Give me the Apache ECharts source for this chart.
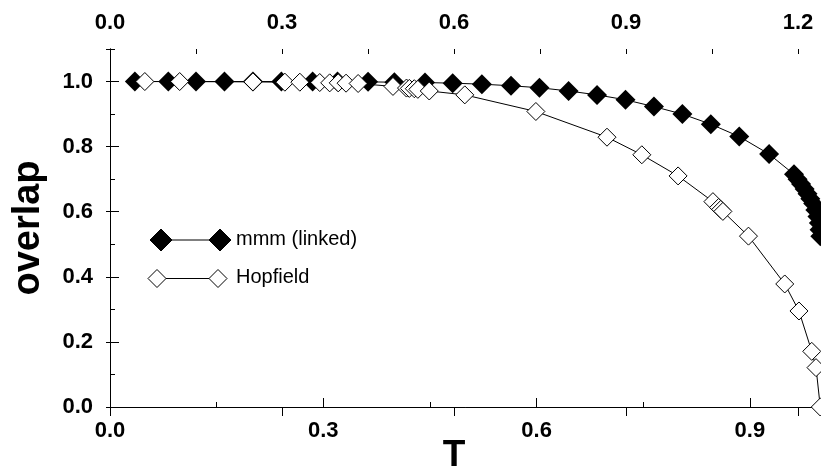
<!DOCTYPE html>
<html><head><meta charset="utf-8">
<script src="https://cdn.jsdelivr.net/npm/echarts@6/dist/echarts.min.js"></script>
<style>html,body{margin:0;padding:0;background:#fff}#c{width:821px;height:472px}</style>
</head><body><div id="c"></div>
<script>
// ---- data ----
const mmmT  = [0.035,0.082,0.121,0.161,0.201,0.241,0.285,0.320,0.363,0.400,0.443,0.482,0.523,0.564,0.604,0.645,0.685,0.725,0.765,0.805,0.845,0.885,0.927,0.962,0.967,0.972,0.977,0.981,0.985,0.989,0.992,0.995,0.997,0.998,0.999];
const mmmOv = [1.000,1.000,1.000,1.000,1.000,1.000,1.000,1.000,0.999,0.998,0.997,0.995,0.992,0.987,0.981,0.971,0.959,0.944,0.923,0.900,0.869,0.831,0.777,0.715,0.700,0.685,0.670,0.655,0.640,0.625,0.605,0.585,0.565,0.545,0.525];
const hopT  = [0.049,0.098,0.201,0.246,0.267,0.295,0.309,0.321,0.332,0.349,0.398,0.417,0.421,0.428,0.433,0.449,0.499,0.599,0.699,0.748,0.799,0.848,0.856,0.859,0.862,0.898,0.949,0.969,0.987,0.993,0.999];
const hopOv = [1.000,1.000,0.999,0.998,0.998,0.997,0.996,0.996,0.995,0.994,0.985,0.980,0.979,0.978,0.976,0.971,0.959,0.908,0.829,0.775,0.710,0.631,0.613,0.607,0.601,0.525,0.378,0.295,0.171,0.121,0.000];
const seriesNames = ['mmm (linked)','Hopfield'];
const bottomTicks = {min:0, max:1.0, major:0.3, minor:0.15};
const topTicks    = {min:0, max:1.24, major:0.3, minor:0.15};
const yTicks      = {min:0, max:1.1, major:0.2, minor:0.1};

// ---- chart ----
const chart = echarts.init(document.getElementById('c'), null, {renderer:'canvas'});
const gridRect = {left:110, right:-1, top:49, bottom:65};
const tickFont = {fontFamily:'Liberation Sans', fontWeight:'bold', fontSize:22, color:'#000'};
const blackLine = {show:true, lineStyle:{color:'#000', width:1}};
const fmt = v => v.toFixed(1);

function xAx(gridIndex, pos, t, isMajor, margin){
  return {type:'value', gridIndex, position:pos, min:t.min, max:t.max,
    interval: isMajor ? t.major : t.minor,
    axisLine: isMajor ? blackLine : {show:false},
    axisTick:{show:true, inside:true, length: isMajor?9:5, lineStyle:{color:'#000', width:1}},
    axisLabel: isMajor ? Object.assign({show:true, margin, formatter:fmt, showMaxLabel:false, showMinLabel:true}, tickFont) : {show:false},
    splitLine:{show:false}};
}
function yAx(gridIndex, pos, isMajor, len, labels){
  return {type:'value', gridIndex, position:pos, min:yTicks.min, max:yTicks.max,
    interval: isMajor ? yTicks.major : yTicks.minor,
    axisLine: isMajor ? blackLine : {show:false},
    axisTick:{show:true, inside:true, length:len, lineStyle:{color:'#000', width:1}},
    axisLabel: labels ? Object.assign({show:true, margin:17, formatter:fmt, showMaxLabel:false}, tickFont) : {show:false},
    splitLine:{show:false}};
}

const yLeft = yAx(0,'left',true,9,true);
yLeft.name = 'overlap';
yLeft.nameLocation = 'middle';
yLeft.nameGap = 62;
yLeft.nameTextStyle = {fontFamily:'Liberation Sans', fontWeight:'bold', fontSize:38, color:'#000'};

function diamond(cx, cy, s){
  const h = s/2;
  return [[cx,cy-h],[cx+h,cy],[cx,cy+h],[cx-h,cy]];
}
const legendRows = [
  {y:240, x1:161, x2:220, size:22, fill:'#000', label:seriesNames[0]},
  {y:278.5, x1:157, x2:218, size:18, fill:'#fff', label:seriesNames[1]}
];
const graphics = [];
legendRows.forEach(r => {
  graphics.push({type:'line', shape:{x1:r.x1, y1:r.y, x2:r.x2, y2:r.y}, style:{stroke:'#000', lineWidth:1}, z:100});
  [r.x1, r.x2].forEach(cx => graphics.push({type:'polygon', shape:{points:diamond(cx, r.y, r.size)}, style:{fill:r.fill, stroke:'#000', lineWidth:1}, z:101}));
  graphics.push({type:'text', left:236, top:r.y-11, style:{text:r.label, fontFamily:'Liberation Sans', fontSize:20, fill:'#000'}, z:101});
});
graphics.push({type:'text', style:{text:'T', x:454, y:456, align:'center', verticalAlign:'middle', fontFamily:'Liberation Sans', fontWeight:'bold', fontSize:37, fill:'#000'}, z:101});

const option = {
  animation:false,
  backgroundColor:'#fff',
  grid:[Object.assign({}, gridRect), Object.assign({}, gridRect)],
  xAxis:[
    xAx(0,'bottom',bottomTicks,true,13),
    xAx(0,'top',topTicks,true,15),
    xAx(1,'bottom',bottomTicks,false),
    xAx(1,'top',topTicks,false)
  ],
  yAxis:[
    yLeft,
    yAx(0,'right',true,4,false),
    yAx(1,'left',false,5,false)
  ],
  graphic:graphics,
  series:[
    {name:seriesNames[0], type:'line', xAxisIndex:0, yAxisIndex:0,
     data: mmmT.map((t,i)=>[t, mmmOv[i]]),
     symbol:'diamond', symbolSize:20, showAllSymbol:true, clip:false,
     itemStyle:{color:'#000', borderColor:'#000', borderWidth:0},
     lineStyle:{color:'#000', width:1}, z:3},
    {name:seriesNames[1], type:'line', xAxisIndex:0, yAxisIndex:0,
     data: hopT.map((t,i)=>[t, hopOv[i]]),
     symbol:'diamond', symbolSize:18, showAllSymbol:true, clip:false,
     itemStyle:{color:'#fff', borderColor:'#000', borderWidth:1},
     lineStyle:{color:'#000', width:1}, z:4}
  ]
};
chart.setOption(option);
</script></body></html>
